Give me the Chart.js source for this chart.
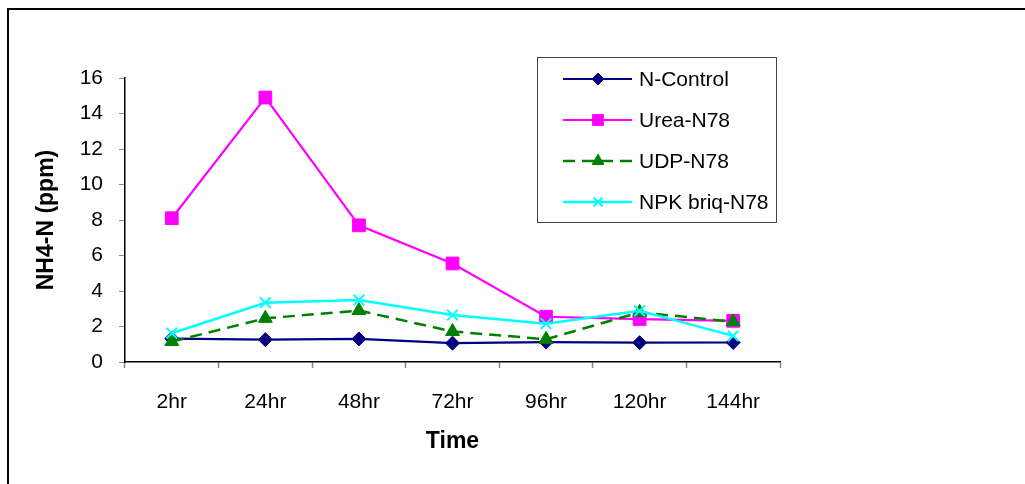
<!DOCTYPE html>
<html>
<head>
<meta charset="utf-8">
<script src="https://cdn.jsdelivr.net/npm/chart.js@4.4.1/dist/chart.umd.min.js"></script>
<style>
html,body{margin:0;padding:0;background:#fff;}
#wrap{width:1025px;height:484px;position:relative;}
</style>
</head>
<body>
<div id="wrap"><canvas id="c" width="1025" height="484"></canvas></div>
<script>
const categories = ['2hr','24hr','48hr','72hr','96hr','120hr','144hr'];
const nControl = [1.32, 1.26, 1.3, 1.06, 1.12, 1.09, 1.1];
const ureaN78 = [8.1, 14.9, 7.7, 5.55, 2.55, 2.42, 2.32];
const udpN78 = [1.15, 2.46, 2.9, 1.72, 1.28, 2.8, 2.27];
const npkBriqN78 = [1.62, 3.34, 3.49, 2.65, 2.16, 2.88, 1.47];
const yTicks = [0, 2, 4, 6, 8, 10, 12, 14, 16];
const seriesNames = ['N-Control', 'Urea-N78', 'UDP-N78', 'NPK briq-N78'];

const FONT = 'Liberation Sans, Arial, sans-serif';

const datasets = [
  {label: seriesNames[0], data: nControl, borderColor: '#000080', backgroundColor: '#000080',
   borderWidth: 2.2, pointStyle: 'rectRot', pointRadius: 7, pointBorderWidth: 1, order: 4},
  {label: seriesNames[1], data: ureaN78, borderColor: '#FF00FF', backgroundColor: '#FF00FF',
   borderWidth: 2.2, pointStyle: 'rect', pointRadius: 9, pointBorderWidth: 1, order: 3},
  {label: seriesNames[2], data: udpN78, borderColor: '#008000', backgroundColor: '#008000',
   borderWidth: 2.5, borderDash: [12, 7], pointStyle: 'triangle', pointRadius: 8, pointBorderWidth: 1, order: 2},
  {label: seriesNames[3], data: npkBriqN78, borderColor: '#00FFFF', backgroundColor: '#00FFFF',
   borderWidth: 2.5, pointStyle: 'crossRot', pointRadius: 7.5, pointBorderWidth: 2, order: 1}
];

const framePlugin = {
  id: 'frame',
  beforeDraw(chart) {
    const ctx = chart.ctx;
    ctx.save();
    ctx.fillStyle = '#fff';
    ctx.fillRect(0, 0, chart.width, chart.height);
    ctx.strokeStyle = '#000';
    ctx.lineWidth = 2;
    ctx.beginPath();
    ctx.moveTo(8, 484);
    ctx.lineTo(8, 9);
    ctx.lineTo(1025, 9);
    ctx.stroke();
    ctx.restore();
  },
  afterDraw(chart) {
    const ctx = chart.ctx;
    ctx.save();
    ctx.strokeStyle = '#444';
    ctx.lineWidth = 1;
    ctx.strokeRect(537.5, 57.5, 239, 165);
    const rows = [79, 120, 161, 202];
    chart.data.datasets.forEach((ds, i) => {
      const y = rows[i];
      ctx.save();
      ctx.strokeStyle = ds.borderColor;
      ctx.lineWidth = ds.borderWidth;
      ctx.setLineDash(ds.borderDash || []);
      ctx.beginPath();
      ctx.moveTo(563, y);
      ctx.lineTo(632, y);
      ctx.stroke();
      ctx.restore();
      ctx.save();
      ctx.setLineDash([]);
      ctx.fillStyle = ds.backgroundColor;
      ctx.strokeStyle = ds.borderColor;
      ctx.lineWidth = ds.pointBorderWidth;
      Chart.helpers.drawPoint(ctx, {pointStyle: ds.pointStyle, radius: ds.pointRadius * 0.85, rotation: 0, borderWidth: ds.pointBorderWidth}, 598, y);
      ctx.restore();
      ctx.fillStyle = '#000';
      ctx.font = '21px ' + FONT;
      ctx.textBaseline = 'middle';
      ctx.textAlign = 'left';
      ctx.fillText(ds.label, 639, y + 1);
    });
    ctx.restore();
  }
};

new Chart(document.getElementById('c'), {
  type: 'line',
  data: {labels: categories, datasets: datasets},
  plugins: [framePlugin],
  options: {
    responsive: false,
    animation: false,
    devicePixelRatio: 1,
    events: [],
    layout: {padding: {left: 0, top: 78, right: 245, bottom: 0}},
    plugins: {legend: {display: false}, tooltip: {enabled: false}},
    elements: {line: {tension: 0, fill: false}},
    scales: {
      x: {
        type: 'category',
        offset: true,
        grid: {display: true, offset: true, drawOnChartArea: false, tickLength: 6, color: '#888', tickColor: '#888', tickWidth: 1.5},
        border: {display: true, color: '#000', width: 1.5},
        ticks: {color: '#000', font: {family: FONT, size: 21}, padding: 22, maxRotation: 0, autoSkip: false},
        title: {display: true, text: 'Time', color: '#000', font: {family: FONT, size: 23, weight: 'bold'}, padding: {top: 0, bottom: 29}},
        afterFit(axis) { axis.height = 122; }
      },
      y: {
        min: 0, max: 16,
        afterBuildTicks(axis) { axis.ticks = yTicks.map(v => ({value: v})); },
        grid: {display: true, drawOnChartArea: false, tickLength: 6, color: '#888', tickColor: '#888'},
        border: {display: true, color: '#000', width: 1.5},
        ticks: {color: '#000', font: {family: FONT, size: 21}, padding: 16},
        title: {display: true, text: 'NH4-N (ppm)', color: '#000', font: {family: FONT, size: 23, weight: 'bold'}, padding: {top: 33, bottom: 0}},
        afterFit(axis) { axis.width = 125; }
      }
    }
  }
});
</script>
</body>
</html>
